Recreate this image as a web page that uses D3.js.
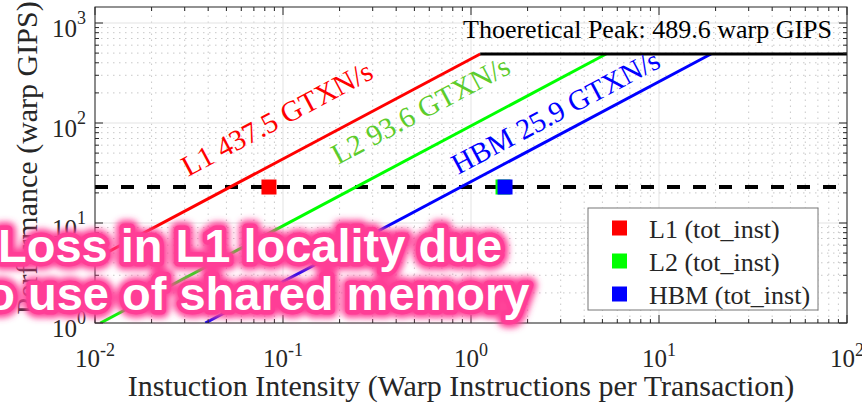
<!DOCTYPE html>
<html>
<head>
<meta charset="utf-8">
<script src="https://cdn.jsdelivr.net/npm/d3@7"></script>
<style>
  body { margin: 0; background: #fff; }
  svg { display: block; }
</style>
</head>
<body>
<div id="chart"></div>
<script>
// roofline data
const roofNames = ['L1', 'L2', 'HBM'];
const roofBW = [437.5, 93.6, 25.9];
const roofColors = ['#ff0000', '#00ff00', '#0000ff'];
const roofTextColors = ['#ff0000', '#5ccc2c', '#0000ff'];
const roofLabelX = [0.0312, 0.196, 0.853];
const roofLabelY = [28.8, 38, 30.2];
const peakGIPS = 489.6;

// measured points (tot_inst)
const pointNames = ['L1 (tot_inst)', 'L2 (tot_inst)', 'HBM (tot_inst)'];
const pointX = [0.0842, 1.48, 1.517];
const pointY = [22.9, 22.9, 22.9];
const measuredGIPS = 22.9;

// axis ticks (exponents)
const xTickExp = [-2, -1, 0, 1, 2];
const yTickExp = [0, 1, 2, 3];

const width = 862, height = 410;
const margin = { top: 7, right: 15, bottom: 87, left: 95 };

const svg = d3.select('#chart')
  .append('svg')
  .attr('width', width)
  .attr('height', height);

const x = d3.scaleLog()
  .domain([1e-2, 1e2])
  .range([margin.left, width - margin.right]);

const y = d3.scaleLog()
  .domain([1, Math.pow(10, 3.16)])
  .range([height - margin.bottom, margin.top]);

const [x0, x1] = x.range();
const [y0, y1] = y.range();

svg.append('clipPath').attr('id', 'plot-clip')
  .append('rect')
  .attr('x', x0).attr('y', y1)
  .attr('width', x1 - x0).attr('height', y0 - y1);

// minor / major grid
const xMinor = [], yMinor = [];
xTickExp.slice(0, -1).forEach(e => { for (let k = 2; k < 10; k++) xMinor.push(k * Math.pow(10, e)); });
yTickExp.forEach(e => { for (let k = 2; k < 10; k++) { const v = k * Math.pow(10, e); if (v < y.domain()[1]) yMinor.push(v); } });
const xMajor = xTickExp.map(e => Math.pow(10, e));
const yMajor = yTickExp.map(e => Math.pow(10, e));

const grid = svg.append('g');
grid.selectAll('.xminor').data(xMinor).enter().append('line')
  .attr('x1', d => x(d)).attr('x2', d => x(d))
  .attr('y1', y0).attr('y2', y1)
  .style('stroke', '#c8c8c8').style('stroke-width', 1).style('stroke-dasharray', '1.5,4.5');
grid.selectAll('.yminor').data(yMinor).enter().append('line')
  .attr('y1', d => y(d)).attr('y2', d => y(d))
  .attr('x1', x0).attr('x2', x1)
  .style('stroke', '#c8c8c8').style('stroke-width', 1).style('stroke-dasharray', '1.5,4.5');
grid.selectAll('.xmajor').data(xMajor).enter().append('line')
  .attr('x1', d => x(d)).attr('x2', d => x(d))
  .attr('y1', y0).attr('y2', y1)
  .style('stroke', '#e3e3e3').style('stroke-width', 1);
grid.selectAll('.ymajor').data(yMajor).enter().append('line')
  .attr('y1', d => y(d)).attr('y2', d => y(d))
  .attr('x1', x0).attr('x2', x1)
  .style('stroke', '#e3e3e3').style('stroke-width', 1);

const plot = svg.append('g').attr('clip-path', 'url(#plot-clip)');

// measured performance, dashed
plot.append('line')
  .attr('x1', x0).attr('x2', x1)
  .attr('y1', y(measuredGIPS)).attr('y2', y(measuredGIPS))
  .style('stroke', '#000').style('stroke-width', 4).style('stroke-dasharray', '13,13');

// bandwidth roofs
const line = d3.line().x(d => x(d[0])).y(d => y(d[1]));
roofBW.forEach((bw, i) => {
  const ridge = peakGIPS / bw;
  const start = Math.max(1e-2, 1 / bw);
  plot.append('path')
    .attr('d', line([[start, bw * start], [ridge, peakGIPS]]))
    .style('fill', 'none').style('stroke', roofColors[i]).style('stroke-width', 3);
});

// compute roof
plot.append('line')
  .attr('x1', x(peakGIPS / roofBW[0])).attr('x2', x1)
  .attr('y1', y(peakGIPS)).attr('y2', y(peakGIPS))
  .style('stroke', '#000').style('stroke-width', 3);

// points
plot.selectAll('.pt').data(pointX).enter().append('rect')
  .attr('x', d => x(d) - 7.5)
  .attr('y', (d, i) => y(pointY[i]) - 7.5)
  .attr('width', 15).attr('height', 15)
  .style('fill', (d, i) => roofColors[i]);

// roof labels along the slope
const angle = Math.atan2(y(10) - y(1), x(10) - x(1)) * 180 / Math.PI;
roofNames.forEach((n, i) => {
  svg.append('text')
    .attr('transform', `translate(${x(roofLabelX[i])},${y(roofLabelY[i])}) rotate(${angle})`)
    .text(`${n} ${roofBW[i]} GTXN/s`)
    .attr('font-family', 'Liberation Serif, Times New Roman, serif')
    .attr('font-size', '29px')
    .attr('fill', roofTextColors[i]);
});

svg.append('text')
  .attr('x', 832).attr('y', 38)
  .attr('text-anchor', 'end')
  .text(`Thoeretical Peak: ${peakGIPS} warp GIPS`)
  .attr('font-family', 'Liberation Serif, Times New Roman, serif')
  .attr('font-size', '26px')
  .attr('fill', '#000');

// box and ticks
const axis = svg.append('g').style('stroke', '#262626').style('stroke-width', 1);
axis.append('rect')
  .attr('x', x0).attr('y', y1)
  .attr('width', x1 - x0).attr('height', y0 - y1)
  .style('fill', 'none');
const tick = (x1_, y1_, x2_, y2_) => axis.append('line')
  .attr('x1', x1_).attr('y1', y1_).attr('x2', x2_).attr('y2', y2_);
xMajor.forEach(v => { tick(x(v), y0, x(v), y0 - 8); tick(x(v), y1, x(v), y1 + 8); });
xMinor.forEach(v => { tick(x(v), y0, x(v), y0 - 4); tick(x(v), y1, x(v), y1 + 4); });
yMajor.forEach(v => { tick(x0, y(v), x0 + 8, y(v)); tick(x1, y(v), x1 - 8, y(v)); });
yMinor.forEach(v => { tick(x0, y(v), x0 + 4, y(v)); tick(x1, y(v), x1 - 4, y(v)); });

// tick labels 10^n
const serif = 'Liberation Serif, Times New Roman, serif';
xTickExp.forEach(e => {
  const t = svg.append('text')
    .attr('x', x(Math.pow(10, e))).attr('y', y0 + 44)
    .attr('text-anchor', 'middle')
    .attr('font-family', serif).attr('font-size', '25px').attr('fill', '#262626');
  t.append('tspan').text('10');
  t.append('tspan').attr('dy', -11).attr('font-size', '18px').text(e < 0 ? '-' + (-e) : e);
});
yTickExp.forEach(e => {
  const t = svg.append('text')
    .attr('x', x0 - 9).attr('y', y(Math.pow(10, e)) + 14)
    .attr('text-anchor', 'end')
    .attr('font-family', serif).attr('font-size', '25px').attr('fill', '#262626');
  t.append('tspan').text('10');
  t.append('tspan').attr('dy', -13).attr('font-size', '18px').text(e);
});

// axis titles
svg.append('text')
  .attr('x', (x0 + x1) / 2 - 10).attr('y', 396)
  .attr('text-anchor', 'middle')
  .text('Instuction Intensity (Warp Instructions per Transaction)')
  .attr('font-family', serif).attr('font-size', '30px').attr('fill', '#262626');

svg.append('text')
  .attr('transform', `translate(37,158) rotate(-90)`)
  .attr('text-anchor', 'middle')
  .text('Performance (warp GIPS)')
  .attr('font-family', serif).attr('font-size', '30px').attr('fill', '#262626');

// legend
const legend = svg.append('g');
legend.append('rect')
  .attr('x', 588).attr('y', 208).attr('width', 230).attr('height', 102)
  .style('fill', '#fff').style('stroke', '#777').style('stroke-width', 1);
pointNames.forEach((n, i) => {
  const cy = 228 + i * 33;
  legend.append('rect')
    .attr('x', 612).attr('y', cy - 7.5).attr('width', 15).attr('height', 15)
    .style('fill', roofColors[i]);
  legend.append('text')
    .attr('x', 649).attr('y', cy + 10)
    .text(n)
    .attr('font-family', serif).attr('font-size', '26px').attr('fill', '#262626');
});

// pink callout overlay
const defs = svg.append('defs');
defs.append('filter').attr('id', 'soft')
  .attr('x', '-10%').attr('y', '-30%').attr('width', '120%').attr('height', '160%')
  .append('feGaussianBlur').attr('stdDeviation', 3);

const calloutLines = ['Loss in L1 locality due', 'to use of shared memory'];
const drawCallout = (stroke, sw, fill, filter) => {
  const t = svg.append('text')
    .attr('text-anchor', 'middle')
    .attr('font-family', 'Liberation Sans, Arial, sans-serif')
    .attr('font-weight', 'bold')
    .attr('font-size', '47px')
    .style('fill', fill)
    .style('stroke', stroke)
    .style('stroke-width', sw)
    .style('stroke-linejoin', 'round')
    .style('paint-order', 'stroke');
  if (filter) t.attr('filter', filter);
  calloutLines.forEach((l, i) => {
    t.append('tspan').attr('x', 250).attr('y', 262 + i * 48).text(l);
  });
};
drawCallout('#ff3d96', 16, '#ff3d96', 'url(#soft)');
drawCallout('#ff3d96', 9, '#fff', null);
</script>
</body>
</html>
